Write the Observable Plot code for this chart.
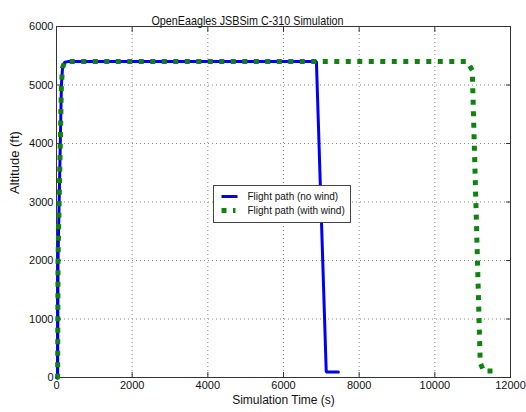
<!DOCTYPE html>
<html><head><meta charset="utf-8">
<script src="https://cdn.jsdelivr.net/npm/d3@7"></script>
<script src="https://cdn.jsdelivr.net/npm/@observablehq/plot@0.6"></script>
<style>
body{margin:0;background:#fff;}
#chart{position:relative;width:526px;height:412px;}
</style></head><body><div id="chart"></div>
<script>
const timeNoWind = [0, 30, 40, 100, 130, 160, 220, 300, 6870, 7130, 7450];
const altNoWind  = [0, 0, 2000, 4000, 5000, 5300, 5390, 5400, 5400, 95, 95];
const timeWind = [0, 30, 40, 100, 130, 160, 220, 300, 10860, 10990, 11200, 11290, 11560];
const altWind  = [0, 0, 2000, 4000, 5000, 5300, 5390, 5400, 5400, 5250, 250, 110, 110];
const xTicks = [0, 2000, 4000, 6000, 8000, 10000, 12000];
const yTicks = [0, 1000, 2000, 3000, 4000, 5000, 6000];
const seriesNames = ["Flight path (no wind)", "Flight path (with wind)"];
const seriesColors = ["#0000f5", "#0e840e"];
const titleText = "OpenEaagles JSBSim C-310 Simulation";
const xLabel = "Simulation Time (s)";
const yLabel = "Altitude (ft)";

const noWind = timeNoWind.map((t, i) => ({t, alt: altNoWind[i]}));
const wind = timeWind.map((t, i) => ({t, alt: altWind[i]}));
const font = "'Liberation Sans', Arial, Helvetica, sans-serif";

const plot = Plot.plot({
  width: 526, height: 412,
  marginLeft: 56, marginRight: 16, marginTop: 26, marginBottom: 35,
  style: {fontFamily: font, fontSize: "11px", background: "white", color: "#111"},
  x: {domain: [0, 12000]},
  y: {domain: [0, 6000]},
  marks: [
    Plot.gridX(xTicks.slice(1, -1), {stroke: "#888", strokeOpacity: 1, strokeDasharray: "1,3"}),
    Plot.gridY(yTicks.slice(1, -1), {stroke: "#888", strokeOpacity: 1, strokeDasharray: "1,3"}),
    Plot.axisX(xTicks, {anchor: "bottom", tickSize: -5, tickPadding: 9, label: null, tickFormat: d => String(d), stroke: "#333"}),
    Plot.axisX(xTicks, {anchor: "top", tickSize: -5, label: null, tickFormat: () => "", stroke: "#333"}),
    Plot.axisY(yTicks, {anchor: "left", tickSize: -5, tickPadding: 8, label: null, tickFormat: d => String(d), stroke: "#333"}),
    Plot.axisY(yTicks, {anchor: "right", tickSize: -5, label: null, tickFormat: () => "", stroke: "#333"}),
    Plot.frame({stroke: "#333"}),
    Plot.line(noWind, {x: "t", y: "alt", stroke: seriesColors[0], strokeWidth: 3, strokeLinejoin: "miter"}),
    Plot.line(wind, {x: "t", y: "alt", stroke: seriesColors[1], strokeWidth: 5, strokeDasharray: "5,6.5", strokeLinecap: "butt"}),
    Plot.text([titleText], {frameAnchor: "top", dx: -36, dy: -11, fontSize: 13.5, fill: "#111"}),
    Plot.text([xLabel], {frameAnchor: "bottom", dy: 26, fontSize: 12, fill: "#111"}),
    Plot.text([yLabel], {frameAnchor: "left", dx: -42, dy: -8, rotate: -90, fontSize: 13, fill: "#111"})
  ]
});
document.getElementById("chart").appendChild(plot);

const svg = d3.select(plot);
// condense the title to the reference's narrow width
svg.selectAll("text").filter(function() { return this.textContent === titleText; })
  .attr("textLength", 192).attr("lengthAdjust", "spacingAndGlyphs");

// legend box inside the plot area
const lg = svg.append("g").attr("transform", "translate(213.5,185.5)");
lg.append("rect").attr("width", 137).attr("height", 37).attr("fill", "white").attr("stroke", "#444");
seriesNames.forEach((name, i) => {
  const y = 11 + i * 14;
  lg.append("line").attr("x1", 8).attr("x2", i === 0 ? 24 : 22).attr("y1", y).attr("y2", y)
    .attr("stroke", seriesColors[i]).attr("stroke-width", i === 0 ? 3 : 5)
    .attr("stroke-dasharray", i === 0 ? null : "5,6.5");
  lg.append("text").attr("x", 34).attr("y", y).attr("dy", "0.35em")
    .attr("text-anchor", "start")
    .attr("font-family", font).attr("font-size", 10).attr("fill", "#111").text(name);
});
</script></body></html>
